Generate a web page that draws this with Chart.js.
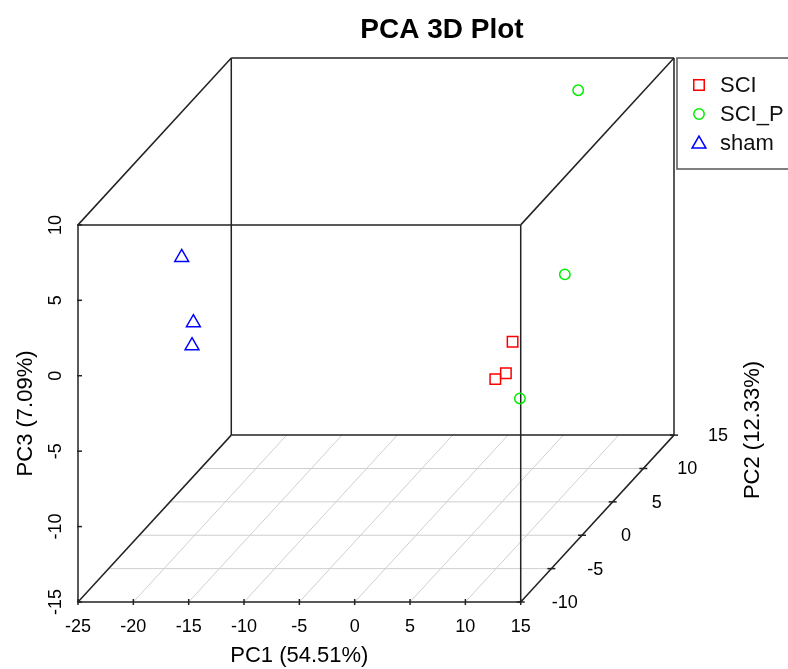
<!DOCTYPE html>
<html>
<head>
<meta charset="utf-8">
<title>PCA 3D Plot</title>
<script src="https://cdn.jsdelivr.net/npm/chart.js@4.4.0/dist/chart.umd.min.js"></script>
<style>
  html, body { margin: 0; padding: 0; background: #fff; }
  canvas { display: block; }
</style>
</head>
<body>
<canvas id="graficoPCA" width="788" height="669"></canvas>
<script>
// ticks of the three axes
const pc1Ticks = [-25, -20, -15, -10, -5, 0, 5, 10, 15];
const pc2Ticks = [-10, -5, 0, 5, 10, 15];
const pc3Ticks = [-15, -10, -5, 0, 5, 10];

const grupos = ['SCI', 'SCI_P', 'sham'];

// PC1, PC2, PC3 of each sample
const sciPC1 = [12.05, 10.89, 9.38];
const sciPC2 = [-6, -5, -4];
const sciPC3 = [0.48, -2.05, -2.88];

const sciPPC1 = [7.45, 12.34, 13.82];
const sciPPC2 = [13, 2, -8];
const sciPPC3 = [8.75, 1.41, -2.39];

const shamPC1 = [-19.51, -17.90, -19.13];
const shamPC2 = [-3, -4, -2];
const shamPC3 = [4.74, 0.86, -1.55];

const rotuloPC1 = 'PC1 (54.51%)';
const rotuloPC2 = 'PC2 (12.33%)';
const rotuloPC3 = 'PC3 (7.09%)';

// oblique projection: how far one PC2 unit moves along PC1 / PC3
const kx = 0.554;
const kz = 0.4425;

const pc1Min = pc1Ticks[0], pc1Max = pc1Ticks[pc1Ticks.length - 1];
const pc2Min = pc2Ticks[0], pc2Max = pc2Ticks[pc2Ticks.length - 1];
const pc3Min = pc3Ticks[0], pc3Max = pc3Ticks[pc3Ticks.length - 1];

function projetar(a, b, c) {
    return { x: a + kx * (b - pc2Min), y: c + kz * (b - pc2Min) };
}

function pontos(xs, ys, zs) {
    return xs.map((v, i) => projetar(v, ys[i], zs[i]));
}

const fonte = '"Liberation Sans", Arial, Helvetica, sans-serif';

const cena3d = {
    id: 'cena3d',
    beforeDatasetsDraw(chart) {
        const ctx = chart.ctx;
        const sx = chart.scales.x, sy = chart.scales.y;
        const pt = (a, b, c) => {
            const p = projetar(a, b, c);
            return [sx.getPixelForValue(p.x), sy.getPixelForValue(p.y)];
        };
        const linha = (p, q, cor, w) => {
            ctx.beginPath();
            ctx.moveTo(p[0], p[1]);
            ctx.lineTo(q[0], q[1]);
            ctx.strokeStyle = cor;
            ctx.lineWidth = w;
            ctx.stroke();
        };
        const texto = (s, x, y, tam, rot, peso) => {
            ctx.save();
            ctx.translate(x, y);
            if (rot) ctx.rotate(-Math.PI / 2);
            ctx.font = (peso || '') + ' ' + tam + 'px ' + fonte;
            ctx.fillStyle = '#000';
            ctx.textAlign = 'center';
            ctx.textBaseline = 'middle';
            ctx.fillText(s, 0, 0);
            ctx.restore();
        };

        ctx.save();
        // floor grid
        const grade = '#cfcfcf';
        pc1Ticks.slice(1, -1).forEach(v => linha(pt(v, pc2Min, pc3Min), pt(v, pc2Max, pc3Min), grade, 1));
        pc2Ticks.slice(1, -1).forEach(v => linha(pt(pc1Min, v, pc3Min), pt(pc1Max, v, pc3Min), grade, 1));

        // box
        const cx = [pc1Min, pc1Max], cy = [pc2Min, pc2Max], cz = [pc3Min, pc3Max];
        const caixa = '#222';
        cy.forEach(b => cz.forEach(c => linha(pt(pc1Min, b, c), pt(pc1Max, b, c), caixa, 1.5)));
        cx.forEach(a => cz.forEach(c => linha(pt(a, pc2Min, c), pt(a, pc2Max, c), caixa, 1.5)));
        cx.forEach(a => cy.forEach(b => linha(pt(a, b, pc3Min), pt(a, b, pc3Max), caixa, 1.5)));

        // ticks and tick labels
        pc1Ticks.forEach(v => {
            const p = pt(v, pc2Min, pc3Min);
            linha([p[0], p[1] - 3], [p[0], p[1] + 3], caixa, 1.5);
            texto(String(v), p[0], p[1] + 25, 18);
        });
        pc3Ticks.forEach(v => {
            const p = pt(pc1Min, pc2Min, v);
            linha([p[0] - 1, p[1]], [p[0] + 4, p[1]], caixa, 1.5);
            texto(String(v), p[0] - 22, p[1], 18, true);
        });
        pc2Ticks.forEach(v => {
            const p = pt(pc1Max, v, pc3Min);
            linha([p[0] - 4, p[1]], [p[0] + 4, p[1]], caixa, 1.5);
            texto(String(v), p[0] + 44, p[1] + 1, 18);
        });

        // axis titles
        const f0 = pt(pc1Min, pc2Min, pc3Min), f1 = pt(pc1Max, pc2Min, pc3Max);
        texto(rotuloPC1, (f0[0] + f1[0]) / 2, 656, 22);
        texto(rotuloPC3, 26, (f0[1] + f1[1]) / 2, 22, true);
        texto(rotuloPC2, 753, 430, 22, true);

        // title
        texto('PCA 3D Plot', 442, 30, 28, false, 'bold');

        // legend
        const topo = pt(pc1Max, pc2Max, pc3Max);
        const lx = topo[0] + 3, ly = topo[1];
        ctx.strokeStyle = '#555';
        ctx.lineWidth = 1.5;
        ctx.strokeRect(lx, ly, 200, 111);
        chart.data.datasets.forEach((ds, i) => {
            const yy = ly + 27 + i * 29;
            ctx.strokeStyle = ds.pointBorderColor;
            ctx.fillStyle = 'rgba(0,0,0,0)';
            ctx.lineWidth = 1.5;
            Chart.helpers.drawPoint(ctx, {
                pointStyle: ds.pointStyle,
                radius: ds.pointRadius,
                rotation: 0,
                borderWidth: 1.5
            }, lx + 22, yy + (ds.pointStyle === 'triangle' ? 1 : 0));
            ctx.font = '22px ' + fonte;
            ctx.fillStyle = '#111';
            ctx.textAlign = 'left';
            ctx.textBaseline = 'middle';
            ctx.fillText(grupos[i], lx + 43, yy + 1);
        });
        ctx.restore();
    }
};

const ctxPCA = document.getElementById('graficoPCA').getContext('2d');

new Chart(ctxPCA, {
    type: 'scatter',
    data: {
        datasets: [{
            label: grupos[0],
            data: pontos(sciPC1, sciPC2, sciPC3),
            pointStyle: 'rect',
            pointRadius: 7.4,
            pointBorderColor: '#ff0000',
            pointBackgroundColor: 'rgba(0,0,0,0)',
            pointBorderWidth: 1.5,
            clip: false
        }, {
            label: grupos[1],
            data: pontos(sciPPC1, sciPPC2, sciPPC3),
            pointStyle: 'circle',
            pointRadius: 5.2,
            pointBorderColor: '#00ee00',
            pointBackgroundColor: 'rgba(0,0,0,0)',
            pointBorderWidth: 1.5,
            clip: false
        }, {
            label: grupos[2],
            data: pontos(shamPC1, shamPC2, shamPC3),
            pointStyle: 'triangle',
            pointRadius: 8,
            pointBorderColor: '#0000ff',
            pointBackgroundColor: 'rgba(0,0,0,0)',
            pointBorderWidth: 1.5,
            clip: false
        }]
    },
    options: {
        responsive: false,
        animation: false,
        devicePixelRatio: 1,
        layout: { padding: { left: 78, right: 114, top: 58, bottom: 67 } },
        plugins: {
            legend: { display: false },
            tooltip: { enabled: false }
        },
        scales: {
            x: { type: 'linear', display: false, min: pc1Min, max: pc1Max + kx * (pc2Max - pc2Min) },
            y: { type: 'linear', display: false, min: pc3Min, max: pc3Max + kz * (pc2Max - pc2Min) }
        }
    },
    plugins: [cena3d]
});
</script>
</body>
</html>
